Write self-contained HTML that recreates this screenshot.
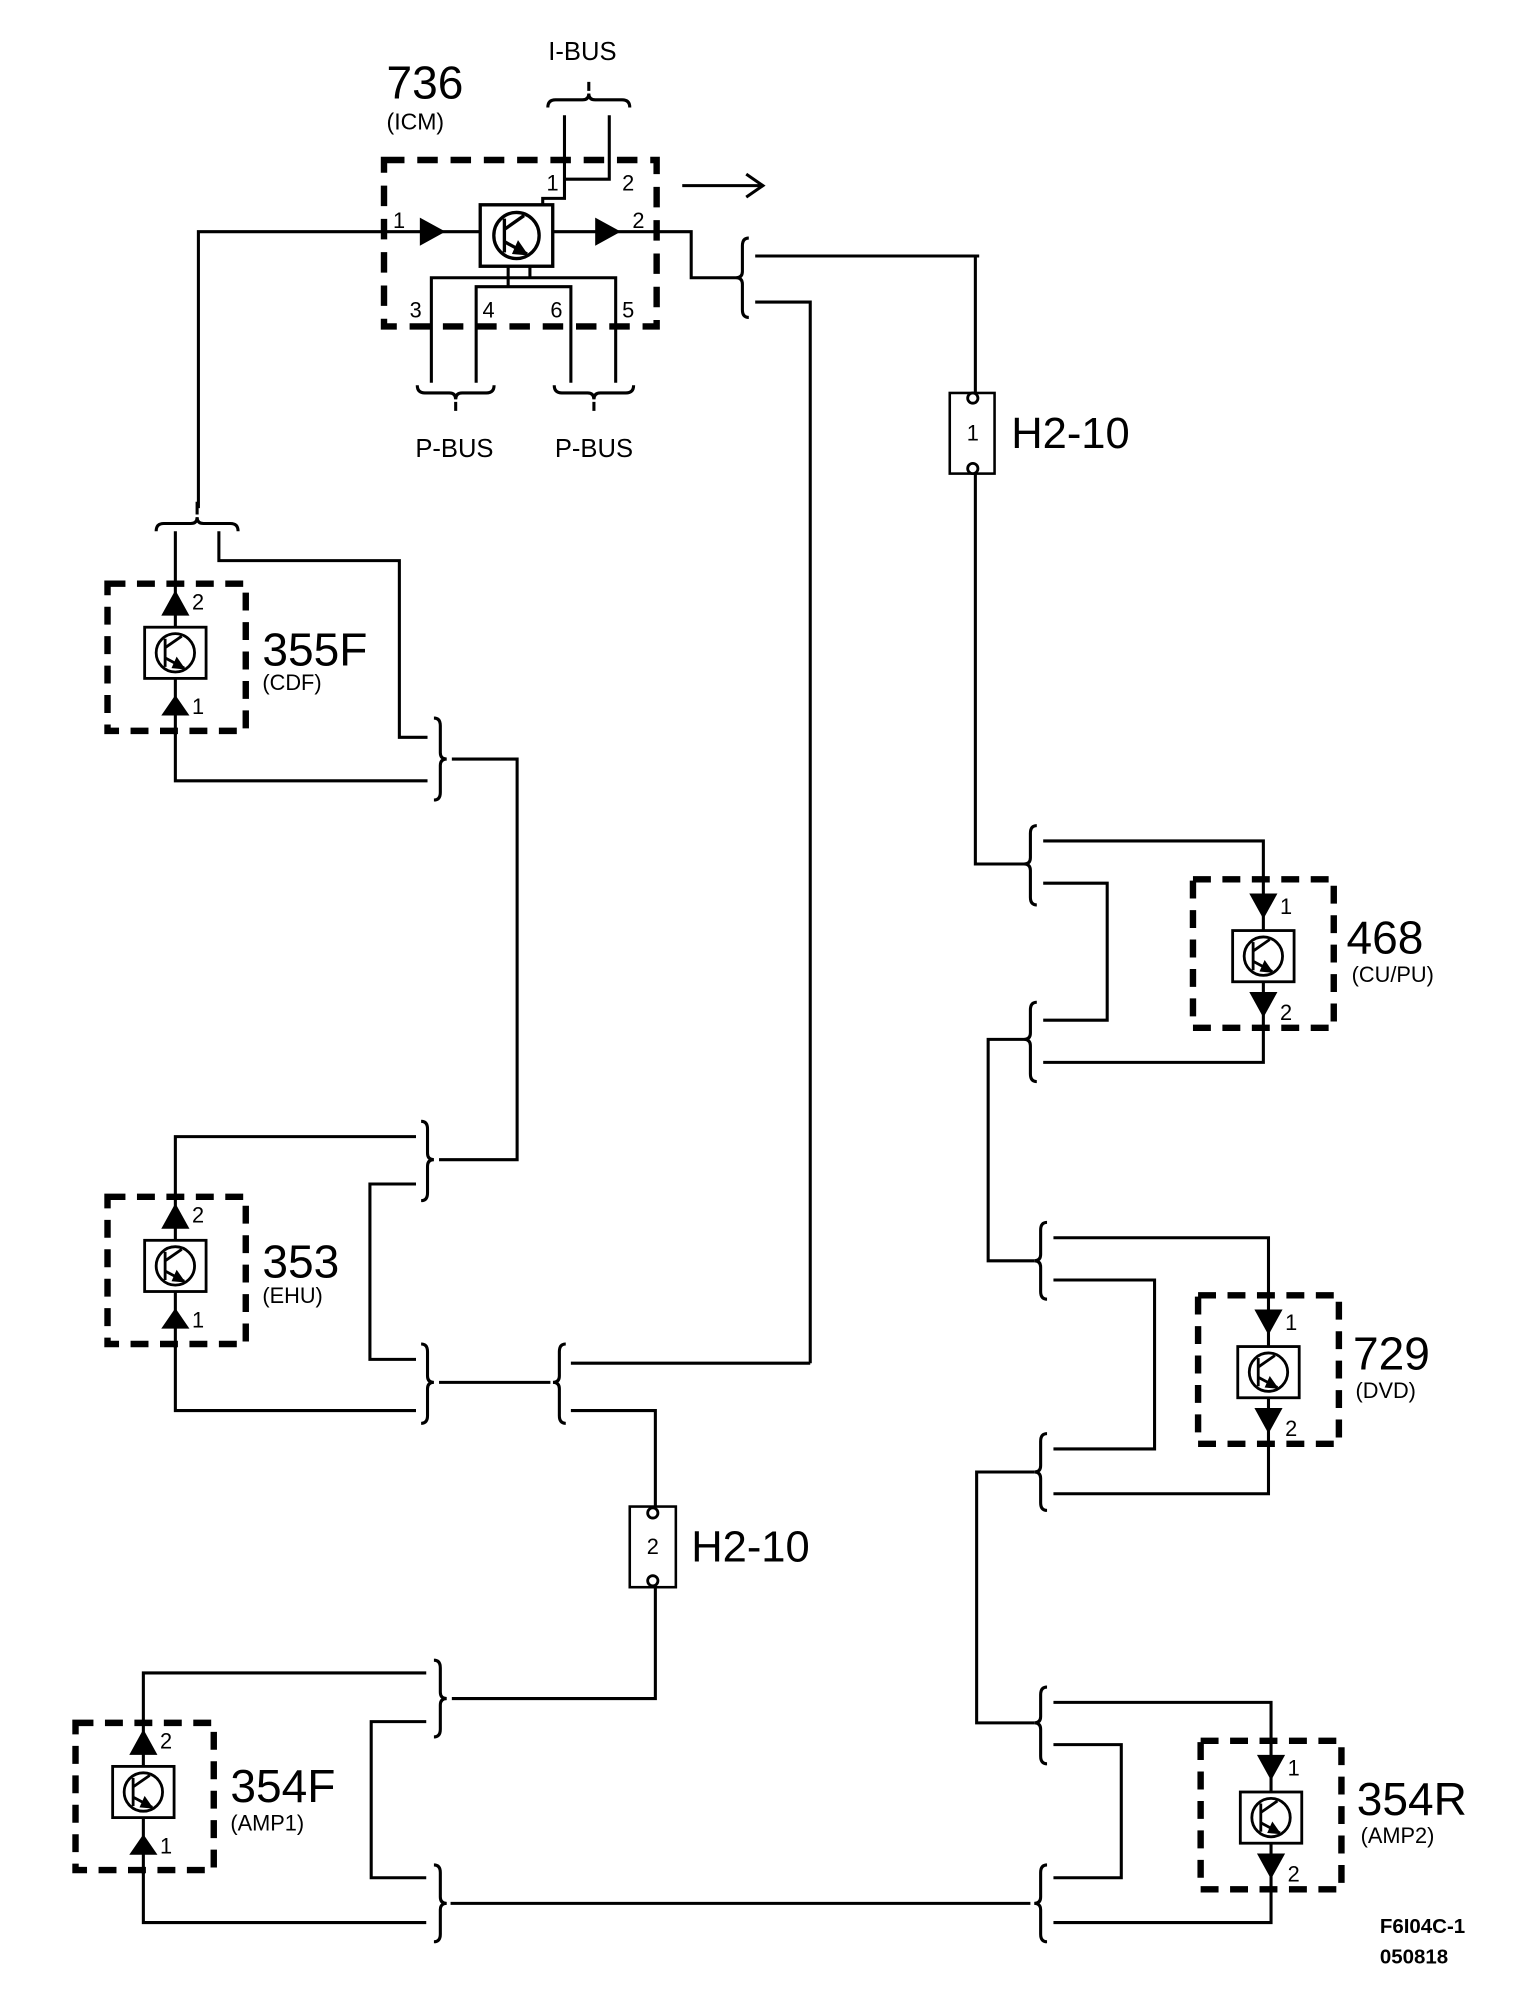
<!DOCTYPE html>
<html><head><meta charset="utf-8"><style>
html,body{margin:0;padding:0;background:#fff}
svg{display:block}
text{font-family:"Liberation Sans",sans-serif;fill:#000}
</style></head><body>
<svg width="1536" height="2000" viewBox="0 0 1200 1562.5" xmlns="http://www.w3.org/2000/svg">
<defs>
<g id="comp">
<rect x="-24" y="-20" width="48" height="40" fill="#fff" stroke="#000" stroke-width="2.2"/>
<circle cx="0" cy="0" r="15" fill="none" stroke="#000" stroke-width="2.2"/>
<line x1="-8" y1="-11" x2="-8" y2="11" stroke="#000" stroke-width="2.2"/>
<line x1="-8" y1="-4" x2="5" y2="-13" stroke="#000" stroke-width="2.2"/>
<line x1="-8" y1="4" x2="7" y2="12" stroke="#000" stroke-width="2.2"/>
<path d="M-3,12 L8,13 L1,3 Z" fill="#000"/>
</g>
<g id="upmod">
<rect x="-53" y="0" width="108" height="115" fill="none" stroke="#000" stroke-width="5" stroke-dasharray="14,9"/>
<line x1="0" y1="-2" x2="0" y2="118" stroke="#000" stroke-width="2.4"/>
<path d="M0,5 L-11,25 L11,25 Z" fill="#000"/>
<path d="M0,87 L-11,103 L11,103 Z" fill="#000"/>
<use href="#comp" x="0" y="54"/>
<text x="13" y="20" font-size="17">2</text>
<text x="13" y="102" font-size="17">1</text>
</g>
<g id="dnmod">
<rect x="-55" y="0" width="110" height="116" fill="none" stroke="#000" stroke-width="5" stroke-dasharray="14,9"/>
<line x1="0" y1="-2" x2="0" y2="118" stroke="#000" stroke-width="2.4"/>
<path d="M-11,11 L11,11 L0,31 Z" fill="#000"/>
<path d="M-11,88 L11,88 L0,108 Z" fill="#000"/>
<use href="#comp" x="0" y="60"/>
<text x="13" y="27" font-size="17">1</text>
<text x="13" y="110" font-size="17">2</text>
</g>
</defs>

<g fill="none" stroke="#000" stroke-width="2.4">
<!-- ICM -->
<rect x="300" y="125" width="213" height="130" stroke-width="5" stroke-dasharray="16,10"/>
<path d="M155,397 L155,181 L375,181 M432,181 L540,181 L540,217 L575,217"/>
<path d="M441,90 L441,155 L424,155 L424,160 M441,140 L476,140 L476,90"/>
<path d="M397,208 L397,224 M414,208 L414,217 M337,299 L337,217 L481,217 L481,299 M372,299 L372,224 L446,224 L446,299"/>
<path d="M590,200 L765,200 M590,236 L633,236 L633,1065"/>
<path d="M428,84 Q428,78 434,78 L455,78 Q460,78 460,73 Q460,78 465,78 L486,78 Q492,78 492,84 M460,71 L460,64"/>
<path d="M326,301 Q326,307 332,307 L351,307 Q356,307 356,312 Q356,307 361,307 L380,307 Q386,307 386,301 M356,314 L356,321"/>
<path d="M433,301 Q433,307 439,307 L459,307 Q464,307 464,312 Q464,307 469,307 L489,307 Q495,307 495,301 M464,314 L464,321"/>
<path d="M585,186 Q580,186 580,192 L580,212 Q580,217 575,217 Q580,217 580,222 L580,242 Q580,248 585,248"/>
<path d="M762,200 L762,307 M762,370 L762,675 L800,675"/>
<rect x="742" y="307" width="35" height="63" stroke-width="2"/>
<path d="M533,145 L595,145 M583,136 L596,145 L583,154"/>

<path d="M122,415 Q122,409 128,409 L149,409 Q154,409 154,404 Q154,409 159,409 L180,409 Q186,409 186,415 M154,402 L154,392"/>
<path d="M137,415 L137,456 M171,415 L171,438 L312,438 L312,576 L334,576 M137,571 L137,610 L334,610"/>
<path d="M339,561 Q344,561 344,567 L344,588 Q344,593 349,593 Q344,593 344,598 L344,619 Q344,625 339,625"/>
<path d="M353,593 L404,593 L404,906 L343,906"/>
<path d="M137,935 L137,888 L325,888 M325,925 L289,925 L289,1062 L325,1062 M137,1050 L137,1102 L325,1102"/>
<path d="M329,876 Q334,876 334,882 L334,901 Q334,906 339,906 Q334,906 334,911 L334,932 Q334,938 329,938"/>
<path d="M329,1050 Q334,1050 334,1056 L334,1075 Q334,1080 339,1080 Q334,1080 334,1085 L334,1106 Q334,1112 329,1112"/>
<path d="M343,1080 L430,1080"/>
<path d="M442,1050 Q437,1050 437,1056 L437,1075 Q437,1080 432,1080 Q437,1080 437,1085 L437,1106 Q437,1112 442,1112"/>
<path d="M446,1065 L633,1065 M446,1102 L512,1102 L512,1177"/>
<rect x="492" y="1177" width="36" height="63" stroke-width="2"/>
<path d="M512,1240 L512,1327 L353,1327"/>
<path d="M339,1297 Q344,1297 344,1303 L344,1322 Q344,1327 349,1327 Q344,1327 344,1332 L344,1351 Q344,1357 339,1357"/>
<path d="M112,1345 L112,1307 L333,1307 M333,1345 L290,1345 L290,1467 L333,1467 M112,1462 L112,1502 L333,1502"/>
<path d="M339,1457 Q344,1457 344,1463 L344,1482 Q344,1487 349,1487 Q344,1487 344,1492 L344,1511 Q344,1517 339,1517"/>
<path d="M352,1487 L805,1487"/>

<path d="M810,645 Q805,645 805,651 L805,670 Q805,675 800,675 Q805,675 805,680 L805,701 Q805,707 810,707"/>
<path d="M815,657 L987,657 L987,687 M815,690 L865,690 L865,797 L815,797 M987,803 L987,830 L815,830"/>
<path d="M810,783 Q805,783 805,789 L805,807 Q805,812 800,812 Q805,812 805,817 L805,839 Q805,845 810,845"/>
<path d="M800,812 L772,812 L772,985 L808,985"/>
<path d="M818,955 Q813,955 813,961 L813,980 Q813,985 808,985 Q813,985 813,990 L813,1009 Q813,1015 818,1015"/>
<path d="M823,967 L991,967 L991,1012 M823,1000 L902,1000 L902,1132 L823,1132 M991,1128 L991,1167 L823,1167"/>
<path d="M818,1120 Q813,1120 813,1126 L813,1145 Q813,1150 808,1150 Q813,1150 813,1155 L813,1174 Q813,1180 818,1180"/>
<path d="M808,1150 L763,1150 L763,1346 L808,1346"/>
<path d="M818,1318 Q813,1318 813,1324 L813,1341 Q813,1346 808,1346 Q813,1346 813,1351 L813,1372 Q813,1378 818,1378"/>
<path d="M823,1330 L993,1330 L993,1360 M823,1363 L876,1363 L876,1467 L823,1467 M993,1478 L993,1502 L823,1502"/>
<path d="M818,1457 Q813,1457 813,1463 L813,1482 Q813,1487 808,1487 Q813,1487 813,1492 L813,1511 Q813,1517 818,1517"/>
</g>
<g fill="#fff" stroke="#000" stroke-width="2.2">
<circle cx="760" cy="311" r="4"/><circle cx="760" cy="366" r="4"/>
<circle cx="510" cy="1182" r="4"/><circle cx="510" cy="1235" r="4"/>
</g>
<path d="M328,170 L328,192 L348,181 Z" fill="#000"/>
<path d="M465,170 L465,192 L485,181 Z" fill="#000"/>
<g transform="translate(403.5,184) scale(1.18,1.2)"><use href="#comp"/></g>

<use href="#upmod" x="137" y="456"/>
<use href="#upmod" x="137" y="935"/>
<use href="#upmod" x="112" y="1346"/>
<use href="#dnmod" x="987" y="687"/>
<use href="#dnmod" x="991" y="1012"/>
<use href="#dnmod" x="993" y="1360"/>

<text x="302" y="77" font-size="36">736</text>
<text x="302" y="101" font-size="18">(ICM)</text>
<text x="455" y="47" font-size="20" text-anchor="middle">I-BUS</text>
<text x="355" y="357" font-size="20" text-anchor="middle">P-BUS</text>
<text x="464" y="357" font-size="20" text-anchor="middle">P-BUS</text>
<text x="307" y="178" font-size="17">1</text>
<text x="494" y="178" font-size="17">2</text>
<text x="427" y="149" font-size="17">1</text>
<text x="486" y="149" font-size="17">2</text>
<text x="320" y="248" font-size="17">3</text>
<text x="377" y="248" font-size="17">4</text>
<text x="430" y="248" font-size="17">6</text>
<text x="486" y="248" font-size="17">5</text>
<text x="760" y="344" font-size="17" text-anchor="middle">1</text>
<text x="790" y="350" font-size="34">H2-10</text>
<text x="510" y="1214" font-size="17" text-anchor="middle">2</text>
<text x="540" y="1220" font-size="34">H2-10</text>
<text x="205" y="520" font-size="36">355F</text>
<text x="205" y="539" font-size="17">(CDF)</text>
<text x="205" y="998" font-size="36">353</text>
<text x="205" y="1018" font-size="17">(EHU)</text>
<text x="180" y="1408" font-size="36">354F</text>
<text x="180" y="1430" font-size="17">(AMP1)</text>
<text x="1052" y="745" font-size="36">468</text>
<text x="1056" y="767" font-size="17">(CU/PU)</text>
<text x="1057" y="1070" font-size="36">729</text>
<text x="1059" y="1092" font-size="17">(DVD)</text>
<text x="1060" y="1418" font-size="36">354R</text>
<text x="1063" y="1440" font-size="17">(AMP2)</text>
<text x="1078" y="1510" font-size="16" font-weight="bold">F6I04C-1</text>
<text x="1078" y="1534" font-size="16" font-weight="bold">050818</text>
</svg>
</body></html>
